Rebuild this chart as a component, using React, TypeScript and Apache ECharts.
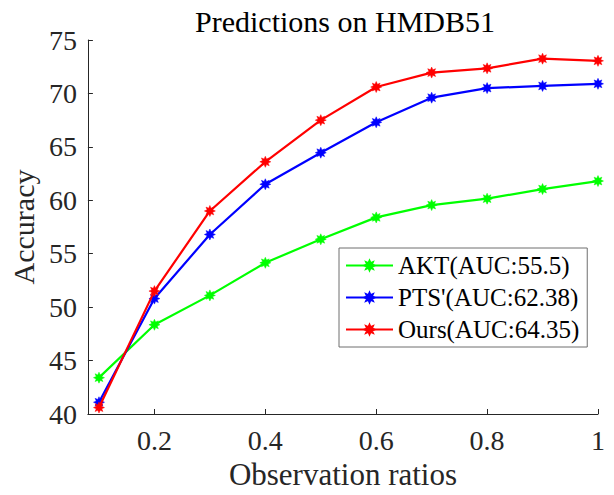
import React, { useEffect, useRef } from "react";
import * as echarts from "echarts";

const ratios = [0.1, 0.2, 0.3, 0.4, 0.5, 0.6, 0.7, 0.8, 0.9, 1.0];
const aktValues = [43.4, 48.35, 51.1, 54.15, 56.35, 58.4, 59.55, 60.15, 61.05, 61.8];
const ptsValues = [41.1, 50.8, 56.8, 61.5, 64.45, 67.3, 69.6, 70.5, 70.7, 70.9];
const oursValues = [40.6, 51.5, 59.0, 63.6, 67.5, 70.6, 71.95, 72.35, 73.25, 73.05];
const seriesNames = ["AKT(AUC:55.5)", "PTS'(AUC:62.38)", "Ours(AUC:64.35)"];
const seriesColors = ["#00ff00", "#0000ff", "#ff0000"];
const xTicks = [0.2, 0.4, 0.6, 0.8, 1.0];

const STAR =
  "path://M20 10 L15 12.2 L17.07 17.07 L12.2 15 L10 20 L7.8 15 L2.93 17.07 L5 12.2 L0 10 L5 7.8 L2.93 2.93 L7.8 5 L10 0 L12.2 5 L17.07 2.93 L15 7.8 Z";

const FONT = "'Liberation Serif', 'Times New Roman', Times, serif";

export default function App() {
  const ref = useRef<HTMLDivElement>(null);
  useEffect(() => {
    document.body.style.margin = "0";
    if (!ref.current) return;
    const chart = echarts.init(ref.current, null, { renderer: "svg" });
    const allValues = [aktValues, ptsValues, oursValues];
    const tickText = { fontFamily: FONT, fontSize: 28, color: "#262626" };
    chart.setOption({
      animation: false,
      backgroundColor: "#ffffff",
      textStyle: { fontFamily: FONT },
      title: {
        text: "Predictions on HMDB51",
        left: 340,
        top: 1,
        textAlign: "center",
        textStyle: { fontFamily: FONT, fontSize: 30, fontWeight: "normal", color: "#000" },
      },
      grid: { left: 82, right: 16, top: 40, bottom: 81, containLabel: false },
      legend: {
        orient: "vertical",
        left: 339,
        top: 248,
        padding: [5, 8, 5, 6],
        itemGap: 7,
        itemWidth: 47,
        itemHeight: 12,
        borderColor: "#6e6e6e",
        borderWidth: 1,
        backgroundColor: "#fff",
        textStyle: { fontFamily: FONT, fontSize: 25, color: "#000", lineHeight: 24 },
        data: seriesNames,
      },
      xAxis: {
        type: "value",
        min: 0.08,
        max: 1,
        name: "Observation ratios",
        nameLocation: "middle",
        nameGap: 41,
        nameTextStyle: { fontFamily: FONT, fontSize: 31, color: "#262626" },
        axisLine: { show: true, lineStyle: { color: "#262626", width: 1 } },
        axisTick: { show: true, inside: true, length: 5, customValues: xTicks, lineStyle: { color: "#262626" } },
        axisLabel: {
          ...tickText,
          customValues: xTicks,
          margin: 12,
          formatter: (v: number) => String(Math.round(v * 10) / 10),
        },
        splitLine: { show: false },
      },
      yAxis: {
        type: "value",
        min: 40,
        max: 75,
        interval: 5,
        name: "Accuracy",
        nameLocation: "middle",
        nameGap: 46,
        nameRotate: 90,
        nameTextStyle: { fontFamily: FONT, fontSize: 30, color: "#262626" },
        axisLine: { show: true, lineStyle: { color: "#262626", width: 1 } },
        axisTick: { show: true, inside: true, length: 5, lineStyle: { color: "#262626" } },
        axisLabel: { ...tickText, margin: 11 },
        splitLine: { show: false },
      },
      series: seriesNames.map((name, i) => ({
        name,
        type: "line",
        data: ratios.map((x, j) => [x, allValues[i][j]]),
        symbol: STAR,
        symbolSize: 11,
        showSymbol: true,
        lineStyle: { color: seriesColors[i], width: 2.2 },
        itemStyle: { color: seriesColors[i], borderColor: seriesColors[i], borderWidth: 0.5 },
        z: 2 + i,
      })),
    });
    return () => chart.dispose();
  }, []);
  return <div ref={ref} style={{ width: 614, height: 495 }} />;
}
